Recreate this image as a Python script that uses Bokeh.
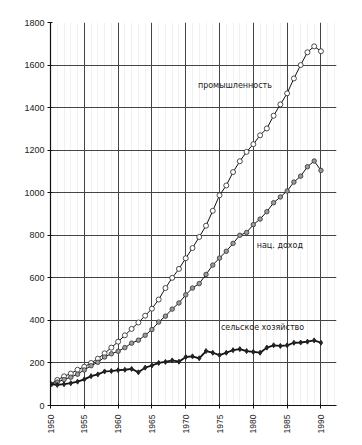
import math
from bokeh.plotting import figure
from bokeh.models import FixedTicker, Range1d, ColumnDataSource, Label
from bokeh.embed import file_html
from bokeh.resources import INLINE

years = list(range(1950, 1991))

industry = [100, 120, 137, 150, 168, 182, 200, 220, 245, 272,
            300, 330, 360, 390, 422, 455, 498, 552, 600, 642,
            692, 740, 792, 845, 915, 988, 1034, 1097, 1148, 1192,
            1228, 1270, 1302, 1362, 1415, 1467, 1537, 1600, 1660, 1688,
            1665]

national_income = [100, 110, 122, 133, 147, 167, 187, 203, 228, 243,
                   255, 272, 293, 307, 330, 357, 392, 420, 453, 482,
                   520, 552, 573, 616, 660, 693, 725, 762, 800, 813,
                   850, 876, 911, 953, 980, 1008, 1050, 1078, 1122, 1149,
                   1105]

agriculture = [100, 97, 100, 105, 112, 123, 138, 146, 160, 162,
               166, 168, 172, 156, 178, 188, 200, 205, 212, 206,
               228, 231, 222, 256, 248, 237, 248, 260, 265, 256,
               252, 248, 272, 283, 280, 283, 295, 296, 300, 306,
               295]

x_ticks = [1950, 1955, 1960, 1965, 1970, 1975, 1980, 1985, 1990]
y_ticks = [0, 200, 400, 600, 800, 1000, 1200, 1400, 1600, 1800]

label_industry = "промышленность"
label_income = "нац. доход"
label_agri = "сельское хозяйство"

src = ColumnDataSource(dict(year=years, ind=industry, inc=national_income, agr=agriculture))

p = figure(width=354, height=437, output_backend="svg", toolbar_location=None,
           x_range=Range1d(1950, 1992.3), y_range=Range1d(0, 1800),
           min_border_left=50, min_border_top=22, min_border_right=18, min_border_bottom=32)
p.outline_line_color = None
p.background_fill_color = "white"
p.border_fill_color = "white"

p.xaxis.ticker = FixedTicker(ticks=x_ticks, minor_ticks=years + [1991, 1992])
p.yaxis.ticker = FixedTicker(ticks=y_ticks)
p.xaxis.major_label_orientation = math.pi / 2

for ax in (p.xaxis, p.yaxis):
    ax.axis_line_color = "#111"
    ax.axis_line_width = 1.2
    ax.major_tick_line_color = "#111"
    ax.major_tick_out = 3
    ax.major_tick_in = 2
    ax.minor_tick_line_color = None
    ax.major_label_text_font = "Liberation Sans"
    ax.major_label_text_color = "#222"
p.yaxis.major_label_text_font_size = "9px"
p.xaxis.major_label_text_font_size = "8.5px"
p.yaxis.major_label_standoff = 3
p.xaxis.major_label_standoff = 5

p.xgrid.grid_line_color = "#444"
p.xgrid.grid_line_width = 1
p.xgrid.minor_grid_line_color = "#f1f1f1"
p.ygrid.grid_line_color = "#444"
p.ygrid.grid_line_width = 1

# industry: open circles
p.line("year", "ind", source=src, line_color="#111", line_width=1)
p.scatter("year", "ind", source=src, marker="circle", size=5,
          fill_color="white", line_color="#222", line_width=0.8)

# national income: grey filled circles
p.line("year", "inc", source=src, line_color="#111", line_width=1)
p.scatter("year", "inc", source=src, marker="circle", size=4.5,
          fill_color="#9a9a9a", line_color="#333", line_width=0.8)

# agriculture: small dark markers, thicker line
p.line("year", "agr", source=src, line_color="#111", line_width=1.8)
p.scatter("year", "agr", source=src, marker="diamond", size=5,
          fill_color="#222", line_color="#222")

lab_kw = dict(text_font="DejaVu Sans", text_font_size="8px", text_color="#222",
              text_baseline="middle", text_align="left")
p.add_layout(Label(x=1971.8, y=1505, text=label_industry, **lab_kw))
p.add_layout(Label(x=1980.5, y=750, text=label_income, **lab_kw))
p.add_layout(Label(x=1975.2, y=368, text=label_agri, **lab_kw))

open("out.html", "w").write(file_html(p, INLINE))
